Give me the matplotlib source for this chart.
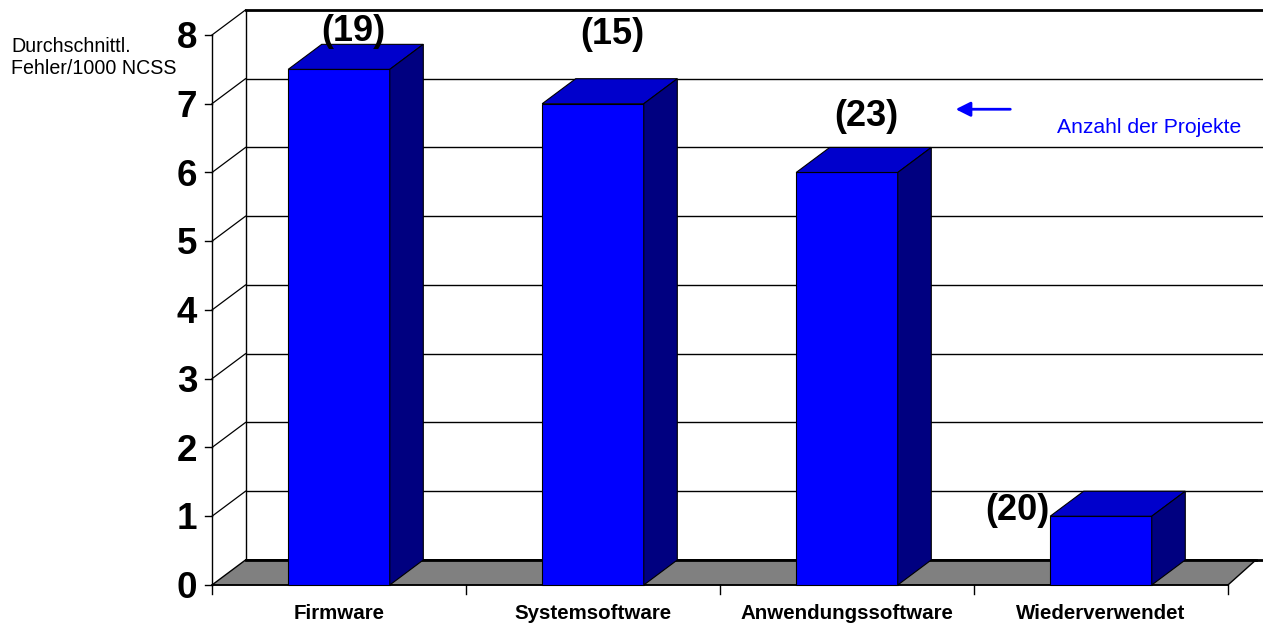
import matplotlib.pyplot as plt
from matplotlib.patches import Polygon, Rectangle

plt.rcParams['font.family'] = ['Liberation Sans', 'DejaVu Sans']

# data
categories = ["Firmware", "Systemsoftware", "Anwendungssoftware", "Wiederverwendet"]
values = [7.5, 7.0, 6.0, 1.0]
project_counts = ["(19)", "(15)", "(23)", "(20)"]
y_ticks = [0, 1, 2, 3, 4, 5, 6, 7, 8]

# oblique depth of the 3d look (in data units)
DX = 0.132
DY = 0.364
BAR_W = 0.40

FRONT = "#0000FF"
TOP = "#0000CC"
SIDE = "#000080"
FLOOR = "#808080"

fig = plt.figure(figsize=(12.63, 6.28), dpi=100)
ax = fig.add_axes([0, 0, 1, 1])
ax.set_xlim(-0.8346, 4.138)
ax.set_ylim(-0.6255, 8.509)
ax.axis('off')

n = len(categories)
ymax = y_ticks[-1]

# back wall: gridlines, left edge and the diagonals from the front axis
for v in y_ticks:
    lw = 2.0 if v in (0, ymax) else 1.0
    ax.plot([DX, 4.2], [v + DY, v + DY], color='black', lw=lw, zorder=1)
    if v > 0:
        ax.plot([0, DX], [v, v + DY], color='black', lw=0.9, zorder=1)
ax.plot([DX, DX], [DY, ymax + DY], color='black', lw=1.0, zorder=1)

# floor
floor = Polygon([(0, 0), (n, 0), (n + 0.11, DY), (DX, DY)], closed=True,
                facecolor=FLOOR, edgecolor='black', lw=1.0, zorder=2)
ax.add_patch(floor)
ax.plot([DX, n + 0.11], [DY, DY], color='black', lw=2.0, zorder=2)

# front value axis
ax.plot([0, 0], [0, ymax], color='black', lw=1.0, zorder=3)
for v in y_ticks:
    ax.plot([-0.028, 0], [v, v], color='black', lw=1.0, zorder=3)
    # baseline a bit below the tick so the digit is centred on it
    ax.text(-0.058, v - 0.19, str(v), ha='right', va='baseline', fontsize=26.5,
            fontweight='bold')

# front category axis
ax.plot([0, n], [0, 0], color='black', lw=1.2, zorder=3)
for i in range(n + 1):
    ax.plot([i, i], [0, -0.13], color='black', lw=1.0, zorder=3)

# bars
for i, (cat, v) in enumerate(zip(categories, values)):
    x0 = i + 0.5 - BAR_W / 2
    x1 = x0 + BAR_W
    ax.add_patch(Rectangle((x0, 0), BAR_W, v, facecolor=FRONT,
                           edgecolor='black', lw=0.8, zorder=4))
    ax.add_patch(Polygon([(x0, v), (x1, v), (x1 + DX, v + DY), (x0 + DX, v + DY)],
                         closed=True, facecolor=TOP, edgecolor='black', lw=0.8, zorder=4))
    ax.add_patch(Polygon([(x1, 0), (x1 + DX, DY), (x1 + DX, v + DY), (x1, v)],
                         closed=True, facecolor=SIDE, edgecolor='black', lw=0.8, zorder=4))
    ax.text(i + 0.5, -0.41, cat, ha='center', va='center', fontsize=14.8,
            fontweight='bold')

# project counts
label_pos = [(0.555, 8.05), (1.575, 8.0), (2.575, 6.82), (3.17, 1.09)]
for txt, (lx, ly) in zip(project_counts, label_pos):
    ax.text(lx, ly, txt, ha='center', va='center', fontsize=26,
            fontweight='bold', zorder=5)

# axis title
ax.text(-0.79, 7.67, "Durchschnittl.\nFehler/1000 NCSS", ha='left', va='center',
        fontsize=14.1, linespacing=1.2)

# note with arrow
ax.annotate("", xy=(2.917, 6.92), xytext=(3.154, 6.92),
            arrowprops=dict(arrowstyle='-|>', color='#0000FF', lw=2,
                            mutation_scale=22))
ax.text(3.327, 6.66, "Anzahl der Projekte", ha='left', va='center',
        fontsize=15.2, color='#0000FF')

fig.savefig("out.png", dpi=100)
